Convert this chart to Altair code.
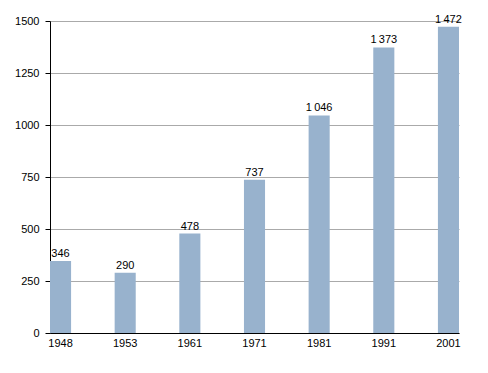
import altair as alt
import pandas as pd

years = ["1948", "1953", "1961", "1971", "1981", "1991", "2001"]
population = [346, 290, 478, 737, 1046, 1373, 1472]
labels = [f"{v:,}".replace(",", "\u2009") for v in population]

df = pd.DataFrame({"year": years, "pop": population, "label": labels})

FONT = "Liberation Sans"

base = alt.Chart(df).encode(
    x=alt.X("year:N", sort=years,
            scale=alt.Scale(paddingInner=0.674, paddingOuter=0, align=0),
            axis=alt.Axis(title=None, labelAngle=0, ticks=False, domainColor="black",
                          labelColor="black", labelFont=FONT, labelFontSize=11,
                          labelPadding=4, grid=False))
)

bars = base.mark_bar(color="#98b2cd").encode(
    y=alt.Y("pop:Q", scale=alt.Scale(domain=[0, 1500], nice=False),
            axis=alt.Axis(title=None, values=[0, 250, 500, 750, 1000, 1250, 1500],
                          format="d",
                          domainColor="black", tickColor="black", tickSize=5,
                          labelColor="black", labelFont=FONT, labelFontSize=11,
                          labelPadding=6, gridColor="#aaaaaa", gridWidth=1))
)

text = base.mark_text(dy=-7, font=FONT, fontSize=11, color="black").encode(
    y=alt.Y("pop:Q"),
    text="label:N"
)

chart = (bars + text).properties(
    width=409, height=312,
    autosize=alt.AutoSizeParams(type="none"),
    padding={"left": 50, "top": 21, "right": 29, "bottom": 40}
).configure_view(stroke=None).configure_axis(domainWidth=1, domainColor="black")

chart.save("out.html", embed_options={"renderer": "svg", "actions": False})
